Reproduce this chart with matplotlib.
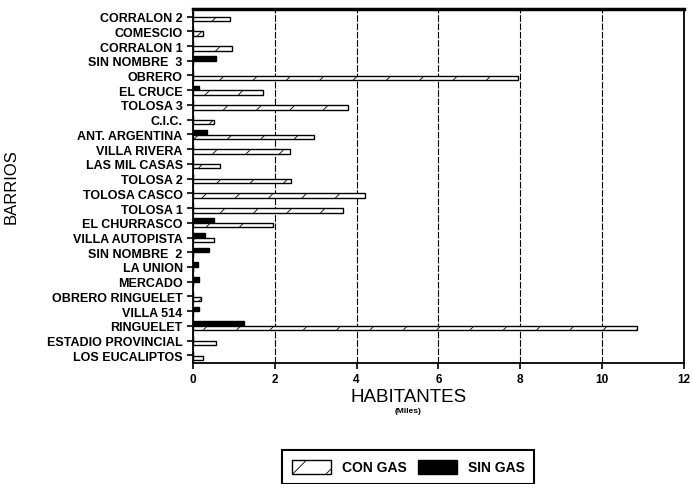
import matplotlib.pyplot as plt
import numpy as np

plt.rcParams['font.family'] = ['Liberation Sans', 'DejaVu Sans']
plt.rcParams['hatch.linewidth'] = 0.6

barrios = ['CORRALON 2', 'COMESCIO', 'CORRALON 1', 'SIN NOMBRE  3', 'OBRERO',
           'EL CRUCE', 'TOLOSA 3', 'C.I.C.', 'ANT. ARGENTINA', 'VILLA RIVERA',
           'LAS MIL CASAS', 'TOLOSA 2', 'TOLOSA CASCO', 'TOLOSA 1', 'EL CHURRASCO',
           'VILLA AUTOPISTA', 'SIN NOMBRE  2', 'LA UNION', 'MERCADO',
           'OBRERO RINGUELET', 'VILLA 514', 'RINGUELET', 'ESTADIO PROVINCIAL',
           'LOS EUCALIPTOS']
con_gas = [0.9, 0.25, 0.95, 0.0, 7.95, 1.7, 3.8, 0.5, 2.95, 2.37, 0.65, 2.4,
           4.2, 3.67, 1.95, 0.5, 0.0, 0.0, 0.0, 0.2, 0.0, 10.85, 0.55, 0.25]
sin_gas = [0.0, 0.0, 0.0, 0.55, 0.0, 0.15, 0.0, 0.0, 0.35, 0.0, 0.0, 0.0,
           0.0, 0.0, 0.5, 0.3, 0.4, 0.12, 0.15, 0.0, 0.15, 1.25, 0.0, 0.0]

fig = plt.figure(figsize=(6.92, 4.85), dpi=100)
ax = fig.add_axes([0.279, 0.25, 0.709, 0.729])

y = np.arange(len(barrios))
h = 0.3
ax.barh(y - 0.16, sin_gas, height=h, color='black', edgecolor='black', linewidth=1.0, label='SIN GAS')
ax.barh(y + 0.16, con_gas, height=h, color='white', edgecolor='black', linewidth=1.0,
        hatch='/', label='CON GAS')

ax.set_xlim(0, 12)
ax.set_ylim(len(barrios) - 0.5, -0.5)
ax.set_xticks([0, 2, 4, 6, 8, 10, 12])
ax.set_yticks(y)
ax.set_yticklabels(barrios, fontsize=9, fontweight='bold')
for t in ax.get_xticklabels():
    t.set_fontsize(8.5)
    t.set_fontweight('bold')
ax.tick_params(axis='both', direction='out', length=4, width=1.2)
ax.grid(axis='x', color='black', linestyle=(0, (6, 1.5)), linewidth=0.8)
ax.set_axisbelow(True)
for s in ax.spines.values():
    s.set_linewidth(1.3)
ax.spines['top'].set_linewidth(2.5)

ax.set_ylabel('BARRIOS', fontsize=12)
ax.yaxis.set_label_coords(-0.355, 0.5)
fig.text(0.59, 0.18, 'HABITANTES', fontsize=13.5, ha='center', va='center')
fig.text(0.59, 0.152, '(Miles)', fontsize=6, fontweight='bold', ha='center', va='center')

handles, labels = ax.get_legend_handles_labels()
leg = fig.legend(handles[::-1], labels[::-1], loc='center', bbox_to_anchor=(0.59, 0.035),
                 ncol=2, fancybox=False, edgecolor='black', framealpha=1,
                 prop={'size': 10, 'weight': 'bold'}, handlelength=2.8, handleheight=1.2,
                 columnspacing=0.8, borderpad=0.7, borderaxespad=0)
leg.get_frame().set_linewidth(1.5)

fig.savefig('out.png', dpi=100)
